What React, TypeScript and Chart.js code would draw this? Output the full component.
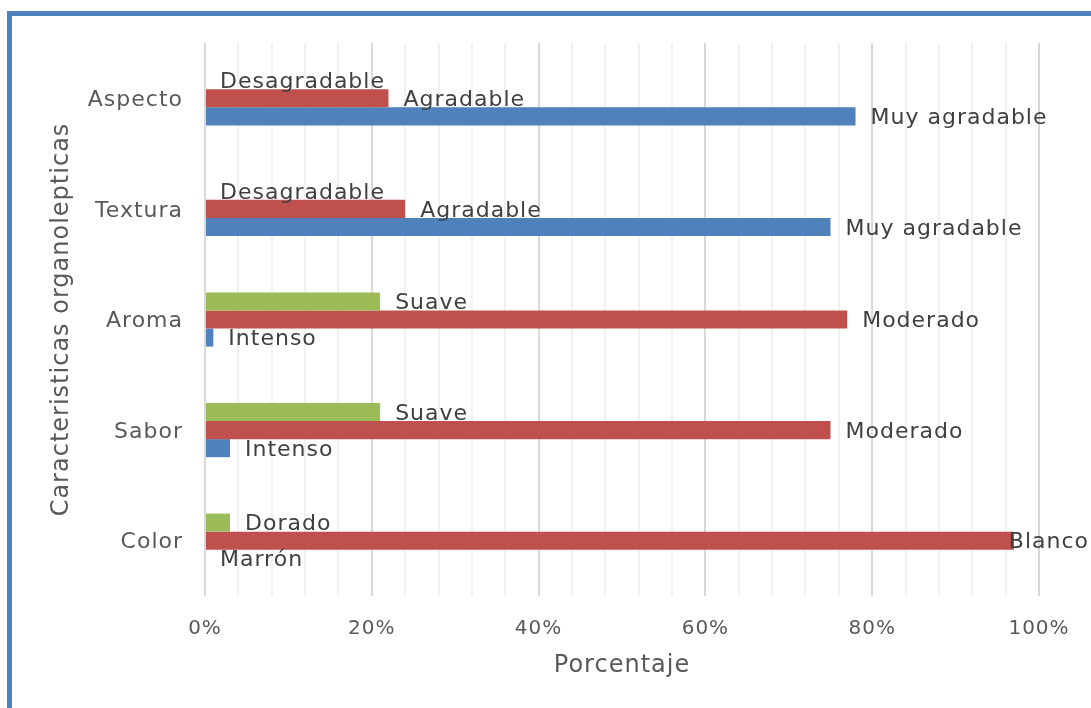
import React, { useEffect, useRef } from "react";
import { Chart, registerables } from "chart.js";

Chart.register(...registerables);

const categories = ["Aspecto", "Textura", "Aroma", "Sabor", "Color"];
const greenValues = [0, 0, 21, 21, 3];
const greenLabels = ["Desagradable", "Desagradable", "Suave", "Suave", "Dorado"];
const redValues = [22, 24, 77, 75, 97];
const redLabels = ["Agradable", "Agradable", "Moderado", "Moderado", "Blanco"];
const blueValues = [78, 75, 1, 3, 0];
const blueLabels = ["Muy agradable", "Muy agradable", "Intenso", "Intenso", "Marrón"];
const xMin = 0;
const xMax = 100;
const xMajorStep = 20;
const xMinorStep = 4;
const yTitle = "Caracteristicas organolepticas";
const xTitle = "Porcentaje";

const FONT = '"DejaVu Sans", sans-serif';

const spacingPlugin = {
  id: "spacing",
  beforeDraw(chart: any) {
    chart.ctx.letterSpacing = "1px";
  },
};

const labelPlugin = {
  id: "barLabels",
  afterDatasetsDraw(chart: any) {
    const ctx = chart.ctx;
    ctx.save();
    ctx.letterSpacing = "1px";
    ctx.textBaseline = "middle";

    // category labels
    const yScale = chart.scales.y;
    ctx.font = `22px ${FONT}`;
    ctx.fillStyle = "#595959";
    ctx.textAlign = "right";
    (chart.data.labels as string[]).forEach((lab, i) => {
      ctx.fillText(lab, yScale.right - 22, yScale.getPixelForValue(i) + 2);
    });

    // data labels
    ctx.fillStyle = "#404040";
    ctx.textAlign = "left";
    chart.data.datasets.forEach((ds: any, di: number) => {
      const meta = chart.getDatasetMeta(di);
      meta.data.forEach((el: any, i: number) => {
        const text = ds.labelTexts[i];
        if (!text) return;
        const w = ctx.measureText(text).width;
        let x = el.x + 15;
        if (x + w > chart.width - 2) x = chart.width - 2 - w;
        ctx.fillText(text, x, el.y + 2);
      });
    });
    ctx.restore();
  },
};

export default function App() {
  const ref = useRef<HTMLCanvasElement>(null);

  useEffect(() => {
    if (!ref.current) return;
    const chart = new Chart(ref.current, {
      type: "bar",
      data: {
        labels: categories,
        datasets: [
          { label: "Verde", data: greenValues, backgroundColor: "#9BBB59", labelTexts: greenLabels } as any,
          { label: "Rojo", data: redValues, backgroundColor: "#C0504D", labelTexts: redLabels } as any,
          { label: "Azul", data: blueValues, backgroundColor: "#4F81BD", labelTexts: blueLabels } as any,
        ],
      },
      options: {
        indexAxis: "y",
        responsive: false,
        animation: false,
        maintainAspectRatio: false,
        categoryPercentage: 0.49,
        barPercentage: 1,
        layout: { padding: { top: 43, right: 52, left: 0, bottom: 0 } },
        plugins: {
          legend: { display: false },
          tooltip: { enabled: false },
        },
        scales: {
          x: {
            min: xMin,
            max: xMax,
            ticks: {
              stepSize: xMinorStep,
              autoSkip: false,
              maxRotation: 0,
              color: "#595959",
              font: { family: FONT, size: 20 },
              padding: 21,
              callback: (v: any) => (Number(v) % xMajorStep === 0 ? v + "%" : ""),
            },
            grid: {
              drawTicks: false,
              color: (c: any) => (c.tick && c.tick.value % xMajorStep === 0 ? "#D9D9D9" : "#F1F1F1"),
              lineWidth: 2,
            },
            border: { display: false },
            title: {
              display: true,
              text: xTitle,
              color: "#595959",
              font: { family: FONT, size: 24 },
              padding: { top: 0, bottom: 28 },
            },
            afterFit: (s: any) => {
              s.height = 112;
            },
          },
          y: {
            ticks: {
              display: false,
            },
            grid: { display: false },
            border: { display: false },
            title: {
              display: true,
              text: yTitle,
              color: "#595959",
              font: { family: FONT, size: 24 },
              padding: { top: 47.6, bottom: 0 },
            },
            afterFit: (s: any) => {
              s.width = 205;
            },
          },
        },
      } as any,
      plugins: [spacingPlugin, labelPlugin],
    });
    return () => chart.destroy();
  }, []);

  return (
    <div
      style={{
        position: "fixed",
        left: 0,
        top: 0,
        width: 1091,
        height: 708,
        overflow: "hidden",
        background: "#ffffff",
      }}
    >
      <div
        style={{
          position: "absolute",
          left: 7,
          top: 11,
          width: 1200,
          height: 800,
          border: "5px solid #4F81BD",
          boxSizing: "border-box",
        }}
      />
      <canvas
        ref={ref}
        width={1091}
        height={708}
        style={{ position: "absolute", left: 0, top: 0 }}
      />
    </div>
  );
}
